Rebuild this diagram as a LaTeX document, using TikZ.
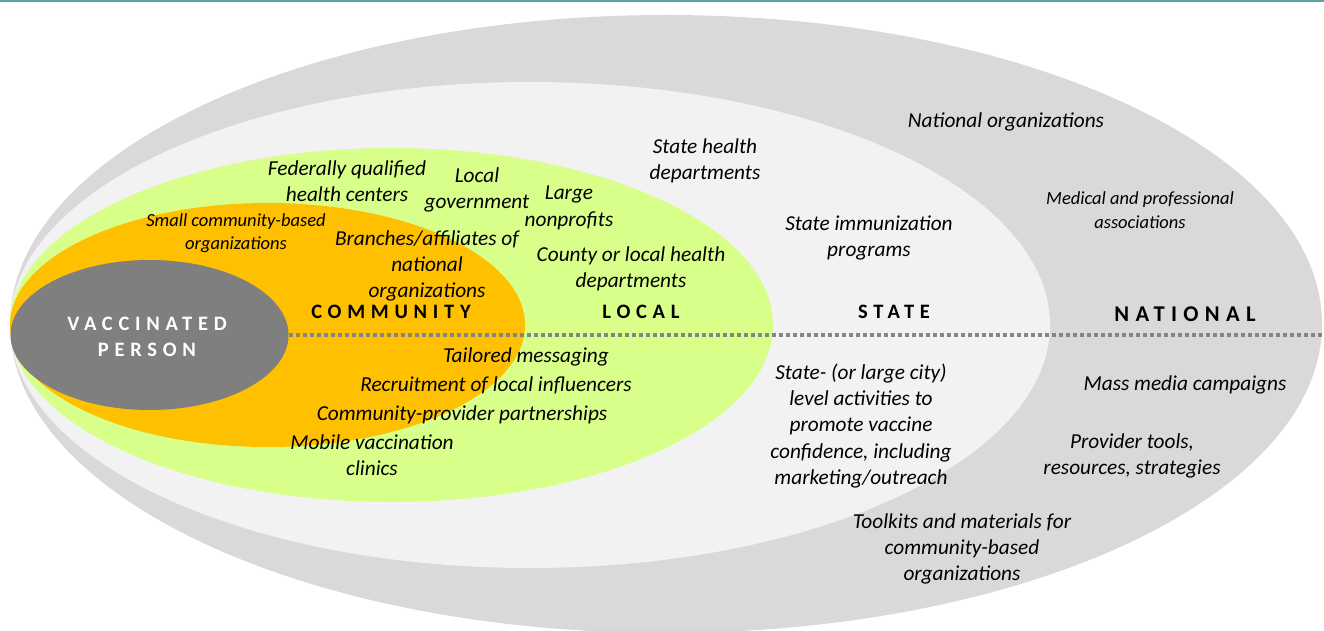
\documentclass[tikz,border=0pt]{standalone}
\usepackage{fontspec}
\setmainfont{Carlito}
\newfontfamily\spacedfont[LetterSpace=28]{Carlito}
\usetikzlibrary{shapes.geometric}
\definecolor{natgray}{HTML}{D9D9D9}
\definecolor{stategray}{HTML}{F2F2F2}
\definecolor{localgreen}{HTML}{D9FF8B}
\definecolor{commorange}{HTML}{FFC000}
\definecolor{persongray}{HTML}{7F7F7F}
\definecolor{dotgray}{HTML}{858585}
\definecolor{teal}{HTML}{5BA3A0}
\tikzset{
  lbl/.style={align=center, inner sep=0pt, yshift=-2pt, font=\itshape\fontsize{21.3}{26.3}\selectfont},
  slbl/.style={align=center, inner sep=0pt, yshift=-1pt, font=\itshape\fontsize{18.5}{23.5}\selectfont},
  lvl/.style={inner sep=0pt, font=\spacedfont\bfseries\fontsize{20.5}{24}\selectfont},
  zone/.style={ellipse, draw=none, inner sep=0pt, outer sep=0pt}
}
\begin{document}
\begin{tikzpicture}[x=1pt,y=-1pt]
\useasboundingbox (0,0) rectangle (1324,631);
\draw[teal, line width=2pt] (0,1) -- (1324,1);
% zones
\node[zone, fill=natgray, minimum width=1312pt, minimum height=618pt] (national) at (666,324) {};
\node[zone, fill=stategray, minimum width=1040pt, minimum height=486pt] (state) at (530,325) {};
\node[zone, fill=localgreen, minimum width=763pt, minimum height=354pt] (local) at (391.5,325) {};
\node[zone, fill=commorange, minimum width=515pt, minimum height=244pt] (community) at (267.5,325) {};
\node[zone, fill=persongray, minimum width=278pt, minimum height=150pt] (person) at (149.5,335) {};
\coordinate (dend) at (1324,335);
\draw[dotgray, line width=3.5pt, dash pattern=on 4pt off 3pt] (person.east) -- (dend);
% person text
\node[inner sep=0pt, text=white, font=\spacedfont\bfseries\fontsize{20.5}{26}\selectfont, align=center] (ptext) at (147,337) {VACCINATED\\PERSON};
% level labels
\node[lvl] (lcomm) at (391,312) {COMMUNITY};
\node[lvl] (llocal) at (641,312) {LOCAL};
\node[lvl] (lstate) at (894,312) {STATE};
\node[lvl, font=\spacedfont\bfseries\fontsize{22.5}{26}\selectfont] (lnat) at (1185,314) {NATIONAL};
% items
\node[lbl] (t1) at (1006,120) {National organizations};
\node[slbl] (t2) at (1140,209) {Medical and professional\\associations};
\node[lbl] (t3) at (705,159) {State health\\departments};
\node[lbl] (t4) at (869,236) {State immunization\\programs};
\node[lbl] (t5) at (347,179) {Federally qualified\\health centers};
\node[lbl] (t6) at (477,188) {Local\\government};
\node[lbl] (t7) at (569,206) {Large\\nonprofits};
\node[slbl] (t8) at (236,232) {Small community-based\\organizations};
\node[lbl] (t9) at (427,264) {Branches/affiliates of\\national\\organizations};
\node[lbl] (t10) at (631,267) {County or local health\\departments};
\node[lbl] (t11) at (526,355) {Tailored messaging};
\node[lbl] (t12) at (496,383) {Recruitment of local influencers};
\node[lbl] (t13) at (462,413) {Community-provider partnerships};
\node[lbl] (t14) at (372,453) {Mobile vaccination\\clinics};
\node[lbl] (t15) at (861,424) {State- (or large city)\\level activities to\\promote vaccine\\confidence, including\\marketing/outreach};
\node[lbl] (t16) at (1185,383) {Mass media campaigns};
\node[lbl] (t17) at (1132,454) {Provider tools,\\resources, strategies};
\node[lbl] (t18) at (962,547) {Toolkits and materials for\\community-based\\organizations};
\end{tikzpicture}
\end{document}
